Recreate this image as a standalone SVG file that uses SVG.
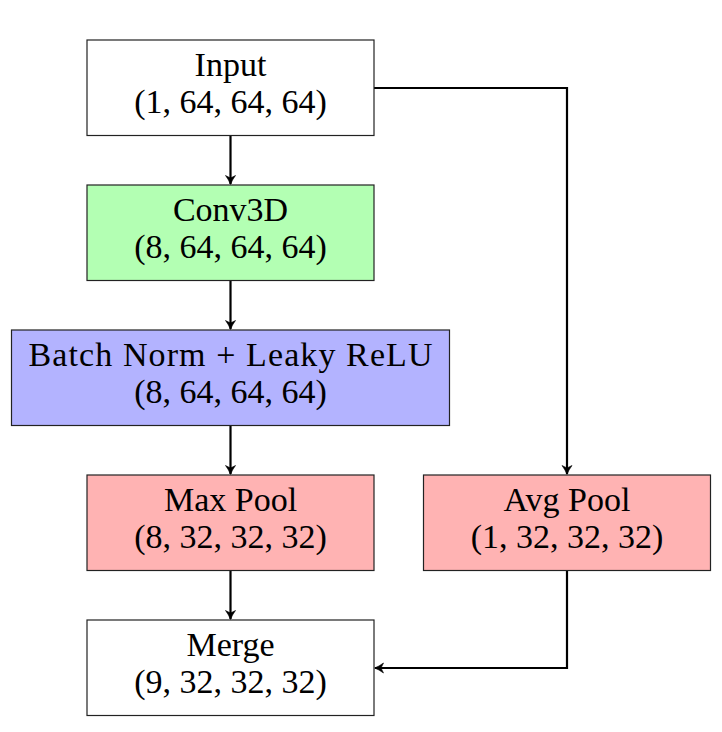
<svg xmlns="http://www.w3.org/2000/svg" width="722" height="732" viewBox="0 0 722 732">
<style>
.box{stroke:#222;stroke-width:1.2}
.t{font-family:"Liberation Serif","DejaVu Serif",serif;font-size:34px;fill:#000;text-anchor:middle}
.c{fill:none;stroke:#000;stroke-width:2.2;marker-end:url(#ah)}
</style>
<defs>
<marker id="ah" viewBox="-10 -6 11 12" refX="0" refY="0" markerWidth="11" markerHeight="12" markerUnits="userSpaceOnUse" orient="auto">
<path d="M0.5,0 Q-4,-1.6 -8.5,-5 L-6,0 L-8.5,5 Q-4,1.6 0.5,0 Z" fill="#000" stroke="#000" stroke-width="0.6" stroke-linejoin="round"/>
</marker>
</defs>
<rect width="722" height="732" fill="#fff"/>
<g id="connectors">
<line class="c" x1="230.5" y1="135.5" x2="230.5" y2="184"/>
<line class="c" x1="230.5" y1="280.5" x2="230.5" y2="329"/>
<line class="c" x1="230.5" y1="425.5" x2="230.5" y2="474"/>
<line class="c" x1="230.5" y1="570.5" x2="230.5" y2="619"/>
<path class="c" d="M374,88 H567 V474"/>
<path class="c" d="M567,570.5 V668 H375"/>
</g>
<g id="input">
<rect class="box" x="87" y="40" width="287" height="95.5" fill="#fff"/>
<text class="t" x="230.5" y="76">Input</text>
<text class="t" x="230.5" y="113">(1, 64, 64, 64)</text>
</g>
<g id="conv3d">
<rect class="box" x="87" y="185" width="287" height="95.5" fill="#b3ffb3"/>
<text class="t" x="230.5" y="221">Conv3D</text>
<text class="t" x="230.5" y="258">(8, 64, 64, 64)</text>
</g>
<g id="bn">
<rect class="box" x="11.5" y="330" width="438" height="95.5" fill="#b3b3ff"/>
<text class="t" x="230.5" y="366" textLength="404" lengthAdjust="spacing">Batch Norm + Leaky ReLU</text>
<text class="t" x="230.5" y="403">(8, 64, 64, 64)</text>
</g>
<g id="maxpool">
<rect class="box" x="87" y="475" width="287" height="95.5" fill="#ffb3b3"/>
<text class="t" x="230.5" y="511">Max Pool</text>
<text class="t" x="230.5" y="548">(8, 32, 32, 32)</text>
</g>
<g id="avgpool">
<rect class="box" x="423.5" y="475" width="287" height="95.5" fill="#ffb3b3"/>
<text class="t" x="567" y="511">Avg Pool</text>
<text class="t" x="567" y="548">(1, 32, 32, 32)</text>
</g>
<g id="merge">
<rect class="box" x="87" y="620" width="287" height="95.5" fill="#fff"/>
<text class="t" x="230.5" y="656">Merge</text>
<text class="t" x="230.5" y="693">(9, 32, 32, 32)</text>
</g>
</svg>
